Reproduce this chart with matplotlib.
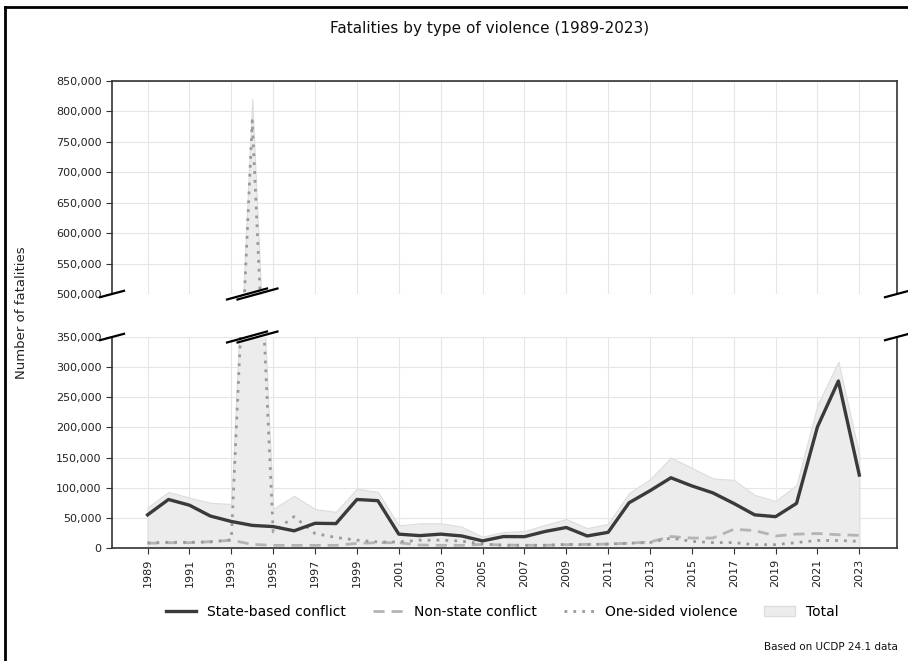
import matplotlib
matplotlib.use("Agg")
import matplotlib.pyplot as plt
import matplotlib.transforms as mtransforms
from matplotlib.lines import Line2D
from matplotlib.patches import Patch
from matplotlib.ticker import FuncFormatter, MultipleLocator

years = list(range(1989, 2024))
state_based = [55000, 80500, 71000, 53000, 44000, 37500, 35500, 28500, 41000, 40500,
               80500, 78500, 23000, 20500, 23000, 20000, 11800, 19000, 18800, 27500,
               34000, 20000, 26000, 75000, 95000, 116500, 103000, 91500, 74000, 55000,
               52000, 74000, 201000, 277000, 121000]
non_state = [7800, 8800, 8800, 10500, 13000, 6000, 4400, 4400, 4400, 4400,
             7700, 8800, 8800, 5000, 4400, 4400, 6000, 5000, 4500, 4500,
             5500, 6000, 6500, 8000, 10000, 19000, 16500, 16500, 31000, 29000,
             20000, 23000, 24000, 22000, 21000]
one_sided = [8500, 9500, 9500, 10000, 13500, 785000, 26500, 52000, 24000, 17500,
             13000, 10000, 10000, 13000, 13000, 11500, 6500, 4500, 4500, 4500,
             6000, 5500, 6500, 8000, 9000, 16500, 11000, 9000, 9000, 5500,
             5500, 9000, 12500, 12500, 11000]
total = [67000, 93000, 83500, 75000, 73000, 821000, 65000, 86500, 64500, 60000,
         98500, 93000, 37500, 41000, 41000, 35500, 18700, 26500, 28000, 38500,
         48000, 33000, 40000, 91000, 114000, 150000, 133000, 115500, 113000, 88000,
         78000, 104500, 237000, 309000, 155000]
x_ticks = list(range(1989, 2024, 2))
series_labels = ["State-based conflict", "Non-state conflict", "One-sided violence", "Total"]

W, H = 908, 661
fig = plt.figure(figsize=(W / 100, H / 100), dpi=100)
fig.patch.set_facecolor("white")

left = 112 / W
width = (897 - 112) / W
ax_top = fig.add_axes([left, 1 - 294 / H, width, (294 - 81) / H])
ax_bot = fig.add_axes([left, 1 - 548 / H, width, (548 - 337) / H])

c_state = "#3a3a3a"
c_non = "#b4b4b4"
c_one = "#9a9a9a"
c_fill = "#ececec"
c_fill_edge = "#dddddd"
spine_c = "#333333"

for ax in (ax_top, ax_bot):
    ax.fill_between(years, total, 0, color=c_fill, edgecolor=c_fill_edge, linewidth=0.8, zorder=1)
    ax.plot(years, non_state, color=c_non, lw=2.0, ls=(0, (4, 2.5)), zorder=3)
    ax.plot(years, one_sided, color=c_one, lw=2.0, ls=(0, (1, 2.2)), zorder=3)
    ax.plot(years, state_based, color=c_state, lw=2.4, zorder=4)
    ax.set_xlim(1987.3, 2024.8)
    ax.set_xticks(x_ticks)
    ax.yaxis.set_major_locator(MultipleLocator(50000))
    ax.yaxis.set_major_formatter(FuncFormatter(lambda v, p: f"{int(v):,}"))
    ax.grid(True, color="#e6e6e6", lw=0.8, zorder=0)
    ax.set_axisbelow(True)
    ax.tick_params(axis="both", direction="out", length=4, width=0.8, color=spine_c,
                   labelsize=8, labelcolor="#222222")
    for s in ax.spines.values():
        s.set_color(spine_c)
        s.set_linewidth(1.2)

ax_top.set_ylim(500000, 850000)
ax_bot.set_ylim(0, 350000)
ax_top.spines["bottom"].set_visible(False)
ax_bot.spines["top"].set_visible(False)
ax_top.tick_params(axis="x", bottom=False, labelbottom=False)
ax_bot.tick_params(axis="x", rotation=90)

# break marks on the spines
def slash(ax, xa, ya, data_x=False, px=12, py=3.2):
    if data_x:
        trans = mtransforms.blended_transform_factory(ax.transData, ax.transAxes)
    else:
        trans = ax.transAxes
    h = ax.get_position().height * H
    w = ax.get_position().width * W
    if data_x:
        xs = [xa - px / 20.95, xa + px / 20.95]
    else:
        xs = [xa - px / w, xa + px / w]
    ys = [ya - py / h, ya + py / h]
    ax.add_line(Line2D(xs, ys, transform=trans, color="black", lw=1.6, clip_on=False, zorder=10))

for ax, yy in ((ax_top, 0.0), (ax_bot, 1.0)):
    slash(ax, 0.0, yy)
    slash(ax, 1.0, yy)
    slash(ax, 1993.75, yy, data_x=True, px=20, py=5.5)
    slash(ax, 1994.25, yy, data_x=True, px=20, py=5.5)

fig.text(490 / W, 1 - 28 / H, "Fatalities by type of violence (1989-2023)",
         ha="center", va="center", fontsize=11, color="#111111")
fig.text(22 / W, 1 - 313 / H, "Number of fatalities", rotation=90,
         ha="center", va="center", fontsize=9.5, color="#222222")

handles = [Line2D([], [], color=c_state, lw=2.4),
           Line2D([], [], color=c_non, lw=2.0, ls=(0, (4, 2.5))),
           Line2D([], [], color=c_one, lw=2.0, ls=(0, (1, 2.2))),
           Patch(facecolor=c_fill, edgecolor=c_fill_edge)]
fig.legend(handles, series_labels, loc="center", bbox_to_anchor=(502 / W, 1 - 612 / H),
           ncol=4, frameon=False, fontsize=10, handlelength=2.2, columnspacing=1.9,
           handletextpad=0.8)

fig.text(898 / W, 1 - 647 / H, "Based on UCDP 24.1 data", ha="right", va="center",
         fontsize=7.5, color="#111111")

# figure border (visible on left and top in the reference crop)
fig.add_artist(Line2D([5 / W, 5 / W], [0, 1 - 7 / H], transform=fig.transFigure,
                      color="black", lw=2))
fig.add_artist(Line2D([5 / W, 1], [1 - 7 / H, 1 - 7 / H], transform=fig.transFigure,
                      color="black", lw=2))

fig.savefig("out.png", dpi=100, facecolor="white")
